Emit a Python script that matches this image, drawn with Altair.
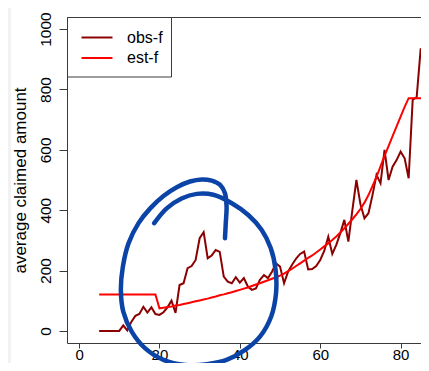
import altair as alt
import pandas as pd

# ---- data ----
ages = list(range(5, 89))
obs_f = [0, 0, 0, 0, 0,                      # 5-9
         0, 18, 2, 30, 50, 56, 80, 61, 78, 56,     # 10-19
         53, 62, 78, 100, 60, 152, 158, 208, 215, 235,   # 20-29
         307, 327, 241, 250, 268, 262, 180, 163, 158, 178,  # 30-39
         160, 175, 147, 136, 141, 169, 185, 175, 196, 224,  # 40-49
         213, 158, 196, 219, 240, 255, 263, 204, 205, 215,  # 50-59
         235, 265, 312, 255, 285, 324, 368, 296, 400, 500,  # 60-69
         420, 373, 390, 450, 517, 489, 600, 500, 544, 566,  # 70-79
         594, 572, 506, 765, 775, 936, 865, 964, 950]       # 80-88
est_f = [121, 121, 121, 121, 121,            # 5-9
         121, 121, 121, 121, 121, 121, 121, 121, 121, 121,  # 10-19
         75, 77, 79, 81, 84, 86, 89, 92, 95, 98,            # 20-29
         101, 104, 107, 111, 114, 118, 121, 125, 128, 132,  # 30-39
         136, 140, 144, 149, 154, 158, 163, 168, 173, 178,  # 40-49
         183, 190, 198, 206, 215, 224, 233, 242, 250, 260,  # 50-59
         270, 280, 290, 301, 313, 326, 340, 355, 370, 386,  # 60-69
         404, 425, 450, 480, 510, 545, 580, 612, 645, 678,  # 70-79
         710, 742, 771, 771, 771, 771, 771, 771, 771]       # 80-88
series_names = ["obs-f", "est-f"]
series_colors = ["#8b0000", "#ff0000"]
x_ticks = [0, 20, 40, 60, 80]
y_ticks = [0, 200, 400, 600, 800, 1000]
y_title = "average claimed amount"

# hand-drawn blue annotation stroke (in data units)
ann_age = [36.3, 36.5, 36.7, 36.3, 35.1, 33.0, 30.5, 27.6, 24.3, 21.0, 17.7, 14.8,
           12.3, 10.9, 10.4, 11.0, 13.1, 16.4, 21.0, 26.4, 31.8, 36.7, 41.3, 45.0,
           47.8, 49.0, 48.9, 47.7, 45.4, 42.1, 38.0, 33.4, 29.3, 25.5, 21.8, 18.7]
ann_amt = [307, 357, 412, 456, 484, 498, 502, 495, 476, 447, 406, 357,
           290, 213, 136, 64, -2, -57, -96, -113, -110, -96, -63, -19,
           48, 125, 202, 274, 335, 384, 423, 451, 454, 439, 406, 357]

assert len(obs_f) == len(ages) and len(est_f) == len(ages)

W, H = 354, 326          # plot area (page x 67..421, y 17..343)
PX_PER_YEAR = 4.0195
FONT = "Liberation Sans"
BOX = "#3a3a3a"

df = pd.DataFrame({
    "age": ages * 2,
    "amount": obs_f + est_f,
    "series": [series_names[0]] * len(ages) + [series_names[1]] * len(ages),
})
ann = pd.DataFrame({"age": ann_age, "amount": ann_amt, "i": list(range(len(ann_age)))})
one = pd.DataFrame({"a": [0]})

xs = alt.Scale(domain=[-3, -3 + W / PX_PER_YEAR], nice=False, zero=False)
ys = alt.Scale(domain=[-40, 1040], nice=False, zero=False)

x_enc = alt.X("age:Q", scale=xs, axis=alt.Axis(values=x_ticks, title=None, format="d"))
y_enc = alt.Y("amount:Q", scale=ys, axis=alt.Axis(values=y_ticks, title=y_title, format="d"))

side_strip = alt.Chart(one).mark_rect(color="#f2f2f2").encode(
    x=alt.value(-59), x2=alt.value(-56), y=alt.value(-9), y2=alt.value(H + 20))

lines = alt.Chart(df).mark_line(strokeWidth=2, clip=True).encode(
    x=x_enc, y=y_enc,
    color=alt.Color("series:N", scale=alt.Scale(domain=series_names, range=series_colors),
                    legend=None),
)

top_border = alt.Chart(one).mark_rule(color=BOX, strokeWidth=1).encode(
    x=alt.value(0), x2=alt.value(W), y=alt.value(0.5))

legend_box = alt.Chart(one).mark_rect(fill="white", stroke=BOX, strokeWidth=1).encode(
    x=alt.value(0.5), x2=alt.value(104.5), y=alt.value(0.5), y2=alt.value(60))

legend_layers = [legend_box]
for k, (name, col) in enumerate(zip(series_names, series_colors)):
    yy = 20.5 + k * 20.5
    legend_layers.append(alt.Chart(one).mark_rule(strokeWidth=2, color=col).encode(
        x=alt.value(14.5), x2=alt.value(45.5), y=alt.value(yy)))
    legend_layers.append(alt.Chart(one).mark_text(
        align="left", baseline="middle", fontSize=16, font=FONT, color="#000").encode(
        x=alt.value(60), y=alt.value(yy), text=alt.value(name)))

annot = alt.Chart(ann).mark_line(color="#0b44a6", strokeWidth=4.5, interpolate="catmull-rom",
                                 strokeCap="round", strokeJoin="round", clip=False).encode(
    x=x_enc, y=y_enc,
    order=alt.Order("i:Q"),
)

chart = alt.layer(side_strip, lines, top_border, *legend_layers, annot).properties(
    width=W, height=H,
    padding={"left": 59, "top": 9, "right": 0, "bottom": 20},
    autosize=alt.AutoSizeParams(type="none"),
    background="white",
).configure_view(
    stroke=None
).configure_axis(
    grid=False, domainColor=BOX, tickColor=BOX,
    labelFont=FONT, labelColor="#000", labelFlush=False,
    labelOverlap=False,
).configure_axisX(
    tickSize=5, labelPadding=11, labelFontSize=15, labelAlign="center",
    labelBaseline="alphabetic",
).configure_axisY(
    tickSize=8, labelPadding=9, labelFontSize=15.5, labelAngle=270, labelAlign="center",
    labelBaseline="alphabetic",
    titleAngle=270, titleX=-42, titleY=H / 2, titleAlign="center",
    titleBaseline="alphabetic", titleFontSize=17, titleFont=FONT,
    titleFontWeight="normal", titleColor="#000",
)

chart.save("out.html", embed_options={"renderer": "svg", "actions": False})
